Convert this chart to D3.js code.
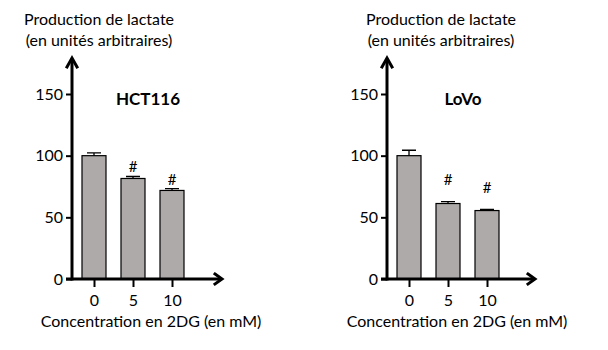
<!DOCTYPE html>
<html><head><meta charset="utf-8">
<script src="https://cdn.jsdelivr.net/npm/d3@7"></script>
<style>body{margin:0;background:#fff;} text{font-family:Lato,"Open Sans",sans-serif;fill:#000;}</style>
</head><body>
<svg id="c" width="608" height="350"></svg>
<script>
const categories = ["0", "5", "10"];
const yTicks = [0, 50, 100, 150];
const cellLines = ["HCT116", "LoVo"];
const hctValues = [100, 81.5, 71.8];
const hctErrors = [2.2, 1.6, 1.4];
const hctMarks = ["", "#", "#"];
const hctMarkY = [null, 90, 79];
const lovoValues = [100, 61.2, 55.5];
const lovoErrors = [4.4, 1.6, 0.9];
const lovoMarks = ["", "#", "#"];
const lovoMarkY = [null, 79, 73];
const yTitle = ["Production de lactate", "(en unités arbitraires)"];
const xTitle = "Concentration en 2DG (en mM)";

const svg = d3.select("#c");
const panels = [
  {name: cellLines[0], vals: hctValues, errs: hctErrors, marks: hctMarks, markY: hctMarkY,
   ax: 72, yTitleX: 99, xTitleX: 151, nameX: 148, axLen: 150},
  {name: cellLines[1], vals: lovoValues, errs: lovoErrors, marks: lovoMarks, markY: lovoMarkY,
   ax: 387, yTitleX: 441, xTitleX: 457, nameX: 463, axLen: 148}
];
const y = d3.scaleLinear().domain([0, 150]).range([279, 94]);
const y0 = y(0);
const fs = 16;

panels.forEach(p => {
  const g = svg.append("g");
  const x = d3.scalePoint().domain(categories).range([p.ax + 22, p.ax + 100]);
  const bw = 24;
  g.selectAll("rect.bar").data(p.vals).join("rect")
    .attr("x", (d, i) => x(categories[i]) - bw / 2)
    .attr("y", d => y(d))
    .attr("width", bw)
    .attr("height", d => y0 - y(d))
    .attr("fill", "#aeaaaa").attr("stroke", "#000").attr("stroke-width", 1.2);
  g.selectAll("path.err").data(p.vals).join("path")
    .attr("d", (d, i) => {
      const cx = x(categories[i]);
      const top = y(d + p.errs[i]);
      return `M${cx},${y(d)}V${top}M${cx - 7},${top}H${cx + 7}`;
    })
    .attr("stroke", "#000").attr("stroke-width", 1.3).attr("fill", "none");
  g.selectAll("text.mark").data(p.marks).join("text")
    .attr("x", (d, i) => x(categories[i]))
    .attr("y", (d, i) => p.markY[i] == null ? 0 : y(p.markY[i]))
    .attr("text-anchor", "middle").attr("dominant-baseline", "middle")
    .attr("font-size", 15).text(d => d);
  const ya = d3.axisLeft(y).tickValues(yTicks).tickSize(6).tickPadding(3);
  const yg = g.append("g").attr("transform", `translate(${p.ax},0)`).call(ya);
  yg.select(".domain").remove();
  yg.selectAll(".tick line").attr("stroke", "#000").attr("stroke-width", 2);
  yg.selectAll(".tick text").attr("font-size", fs).attr("font-family", "Lato,'Open Sans',sans-serif").attr("fill", "#000");
  const xa = d3.axisBottom(x).tickSize(7).tickPadding(8);
  const xg = g.append("g").attr("transform", `translate(0,${y0 + 1})`).call(xa);
  xg.select(".domain").remove();
  xg.selectAll(".tick line").attr("stroke", "#000").attr("stroke-width", 2);
  xg.selectAll(".tick text").attr("font-size", fs).attr("font-family", "Lato,'Open Sans',sans-serif").attr("fill", "#000");
  const top = 58;
  g.append("path").attr("d", `M${p.ax},${y0 + 1.5}V${top + 1}`)
    .attr("stroke", "#000").attr("stroke-width", 3).attr("fill", "none");
  g.append("path").attr("d", `M${p.ax - 5},${top + 9}L${p.ax},${top}L${p.ax + 5},${top + 9}`)
    .attr("stroke", "#000").attr("stroke-width", 3).attr("fill", "none").attr("stroke-linecap", "square");
  const xEnd = p.ax + p.axLen;
  g.append("path").attr("d", `M${p.ax - 6},${y0}H${xEnd - 1}`)
    .attr("stroke", "#000").attr("stroke-width", 3).attr("fill", "none");
  g.append("path").attr("d", `M${xEnd - 7},${y0 - 5}L${xEnd},${y0}L${xEnd - 7},${y0 + 5}`)
    .attr("stroke", "#000").attr("stroke-width", 3).attr("fill", "none").attr("stroke-linecap", "square");
  g.append("text").attr("x", p.yTitleX).attr("y", 25).attr("text-anchor", "middle").attr("font-size", fs).text(yTitle[0]);
  g.append("text").attr("x", p.yTitleX).attr("y", 46).attr("text-anchor", "middle").attr("font-size", fs).text(yTitle[1]);
  g.append("text").attr("x", p.xTitleX).attr("y", 327).attr("text-anchor", "middle").attr("font-size", fs).text(xTitle);
  g.append("text").attr("x", p.nameX).attr("y", 105).attr("text-anchor", "middle").attr("font-size", 17).attr("font-weight", "bold").text(p.name);
});
</script>
</body></html>
